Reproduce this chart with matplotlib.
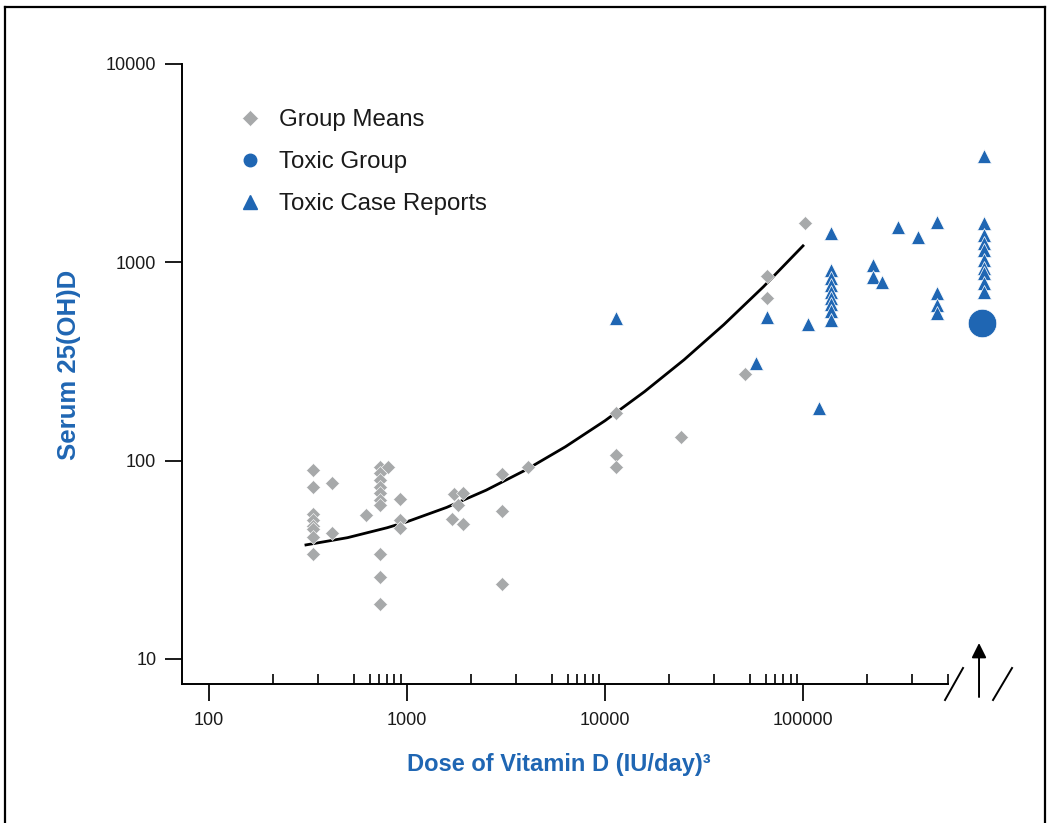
import matplotlib
matplotlib.use("Agg")
import matplotlib.pyplot as plt
from matplotlib.lines import Line2D
import numpy as np

plt.rcParams["font.family"] = ["Liberation Sans", "DejaVu Sans"]

GRAY = "#a7a9aa"
BLUE = "#1f66b3"

# group means (dose IU/day, serum 25(OH)D)
group_dose = [335, 335, 335, 335, 335, 335, 335, 335,
              420, 420,
              620,
              730, 730, 730, 730, 730, 730, 730, 730, 730, 730,
              800,
              920, 920, 920,
              1690, 1730, 1810, 1920, 1920,
              3020, 3020, 3020,
              4080,
              11400, 11400, 11400,
              24200, 50900, 65800, 65800, 102000]
group_serum = [90, 74, 54, 50, 47, 45, 41, 34,
               77, 43,
               53,
               93, 87, 80, 74, 69, 63, 60, 34, 26, 19,
               93,
               64, 50, 46,
               51, 68, 60, 69, 48,
               86, 56, 24,
               93,
               174, 107, 93,
               132, 274, 854, 661, 1580]

# toxic case reports
case_dose = [11400, 57900, 65800, 106000, 120500,
             138000, 138000, 138000, 138000, 138000, 138000, 138000, 138000, 138000,
             226000, 226000, 251000, 302000, 381000,
             475000, 475000, 475000, 475000,
             820000, 820000, 820000, 820000, 820000, 820000, 820000, 820000, 820000, 820000]
case_serum = [524, 311, 530, 489, 185,
              1407, 916, 834, 769, 709, 661, 617, 569, 512,
              970, 844, 796, 1510, 1339,
              1592, 701, 610, 556,
              3440, 1581, 1375, 1253, 1155, 1028, 937, 885, 788, 709]

# toxic group
toxic_dose = [800000]
toxic_serum = [495]

# fitted curve
curve_dose = [309, 501, 794, 1000, 1585, 2512, 3981, 6310, 10000,
              15849, 25119, 39811, 63096, 100000]
curve_serum = [37.6, 40.9, 45.9, 49.2, 58.1, 71.0, 89.8, 117.5, 159,
               223, 323, 485, 753, 1211]

x_major = [100, 1000, 10000, 100000]
x_minor_mult = [2.1, 3.55, 5.4, 6.5, 7.2, 7.95, 8.65, 9.3]
y_major = [10, 100, 1000, 10000]
X_MIN, X_MAX = 73.1, 1.247e6
Y_MIN, Y_MAX = 7.48, 10000
X_BREAK = 5.4e5

W, H = 1052, 823
fig = plt.figure(figsize=(W / 100, H / 100), dpi=100)
ax = fig.add_axes([182 / W, 1 - 684 / H, (1020 - 182) / W, (684 - 64) / H])
ax.set_xscale("log")
ax.set_yscale("log")
ax.set_xlim(X_MIN, X_MAX)
ax.set_ylim(Y_MIN, Y_MAX)

ax.plot(curve_dose, curve_serum, color="black", lw=2.0, zorder=2)
ax.plot(group_dose, group_serum, ls="none", marker="D", ms=7.4, color=GRAY,
        mec="white", mew=0.4, zorder=3)
ax.plot(case_dose, case_serum, ls="none", marker="^", ms=9.6, color=BLUE,
        mec="white", mew=0.5, zorder=4)
ax.plot(toxic_dose, toxic_serum, ls="none", marker="o", ms=20.5, color=BLUE,
        mec="white", mew=0.5, zorder=4)

for s in ["top", "right"]:
    ax.spines[s].set_visible(False)
ax.spines["bottom"].set_bounds(X_MIN, X_BREAK)
ax.spines["left"].set_bounds(Y_MIN, Y_MAX)
for s in ["bottom", "left"]:
    ax.spines[s].set_linewidth(1.4)

minor = [m * d for d in [100, 1000, 10000, 100000] for m in x_minor_mult]
minor = [v for v in minor if v <= X_BREAK * 1.01]
ax.set_xticks(x_major)
ax.set_xticklabels([str(v) for v in x_major])
ax.set_xticks(minor, minor=True)
ax.set_xticklabels([], minor=True)
ax.set_yticks(y_major)
ax.set_yticklabels([str(v) for v in y_major])
ax.yaxis.set_minor_locator(matplotlib.ticker.NullLocator())
ax.tick_params(axis="x", which="major", direction="out", length=12, width=1.4,
               pad=8, labelsize=13, colors="#1a1a1a")
ax.tick_params(axis="x", which="minor", direction="in", length=7, width=1.2)
ax.tick_params(axis="y", which="major", direction="out", length=12, width=1.4,
               pad=6.5, labelsize=13, colors="#1a1a1a")

ax.set_xlabel("Dose of Vitamin D (IU/day)\u00b3", fontsize=17, fontweight="bold",
              color=BLUE)
ax.xaxis.set_label_coords((559 - 182) / 838, -(765 - 684) / 620)
ax.xaxis.label.set_va("center")
ax.set_ylabel("Serum 25(OH)D", fontsize=18.5, fontweight="bold", color=BLUE)
ax.yaxis.set_label_coords(-(182 - 69) / 838, (684 - 365) / 620)
ax.yaxis.label.set_va("center")

handles = [
    Line2D([], [], ls="none", marker="D", ms=8, color=GRAY, mec="white", mew=0.4),
    Line2D([], [], ls="none", marker="o", ms=9, color=BLUE),
    Line2D([], [], ls="none", marker="^", ms=9.6, color=BLUE),
]
ax.legend(handles, ["Group Means", "Toxic Group", "Toxic Case Reports"],
          loc="upper left", bbox_to_anchor=(238 / W, 1 - 109 / H),
          bbox_transform=fig.transFigure, frameon=False, fontsize=17.3,
          handlelength=1.0, handletextpad=0.72, labelspacing=0.84,
          borderpad=0, borderaxespad=0, labelcolor="#1a1a1a")

# axis break marks and arrow, placed from the break point
bx, by = ax.transData.transform((X_BREAK, Y_MIN))
to_fig = fig.transFigure.inverted()


def seg(p0, p1, **kw):
    a = to_fig.transform((bx + p0[0], by + p0[1]))
    b = to_fig.transform((bx + p1[0], by + p1[1]))
    fig.add_artist(Line2D([a[0], b[0]], [a[1], b[1]], transform=fig.transFigure,
                          color="black", **kw))


seg((-3, -16), (15, 16), lw=1.4)
seg((45, -16), (64, 16), lw=1.4)
a = to_fig.transform((bx + 31, by - 13))
b = to_fig.transform((bx + 31, by + 41))
fig.add_artist(matplotlib.patches.FancyArrowPatch(
    tuple(a), tuple(b), transform=fig.transFigure, arrowstyle="-|>",
    mutation_scale=22, lw=1.4, color="black", shrinkA=0, shrinkB=0))

# outer frame
fl, fr, ft = 5 / W, 1045 / W, 1 - 7 / H
for xs, ys in [([fl, fl], [-0.1, ft]), ([fl, fr], [ft, ft]), ([fr, fr], [ft, -0.1])]:
    fig.add_artist(Line2D(xs, ys, transform=fig.transFigure, color="black", lw=1.6))

fig.savefig("out.png", dpi=100)
